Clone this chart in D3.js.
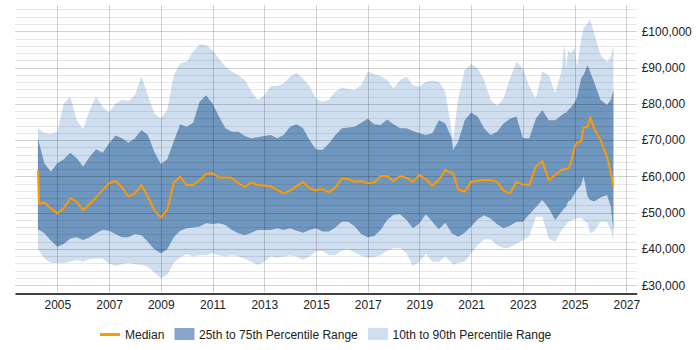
<!DOCTYPE html>
<html>
<head>
<meta charset="utf-8">
<script src="https://cdn.jsdelivr.net/npm/d3@7"></script>
<style>
  html, body { margin: 0; padding: 0; background: #fff; }
  svg { display: block; font-family: "Liberation Sans", Arial, sans-serif; }
</style>
</head>
<body>
<svg id="chart" width="700" height="350"></svg>
<script>
// ---- data (values in £ thousands) ----
const years = [2004.25, 2004.3, 2004.5, 2004.75,
  2005, 2005.25, 2005.5, 2005.75, 2006, 2006.25, 2006.5, 2006.75,
  2007, 2007.25, 2007.5, 2007.75, 2008, 2008.25, 2008.5, 2008.75,
  2009, 2009.25, 2009.5, 2009.75, 2010, 2010.25, 2010.5, 2010.75,
  2011, 2011.25, 2011.5, 2011.75, 2012, 2012.25, 2012.5, 2012.75,
  2013, 2013.25, 2013.5, 2013.75, 2014, 2014.25, 2014.5, 2014.75,
  2015, 2015.25, 2015.5, 2015.75, 2016, 2016.25, 2016.5, 2016.75,
  2017, 2017.25, 2017.5, 2017.75, 2018, 2018.25, 2018.5, 2018.75,
  2019, 2019.25, 2019.5, 2019.75, 2020, 2020.25, 2020.3, 2020.5, 2020.75,
  2021, 2021.25, 2021.5, 2021.75, 2022, 2022.25, 2022.5, 2022.75,
  2023, 2023.25, 2023.5, 2023.75, 2024, 2024.25, 2024.5, 2024.6, 2024.68, 2024.75, 2024.85,
  2025, 2025.1, 2025.25, 2025.35, 2025.5, 2025.6, 2025.75, 2026, 2026.25, 2026.4, 2026.5];

const p90 = [73.4, 73.0, 71.9, 71.7,
  72.3, 80.1, 82.0, 75.5, 73.0, 78.3, 82.0, 79.2,
  77.6, 80.1, 81.1, 80.8, 82.4, 87.5, 82.4, 77.4,
  76.0, 78.3, 87.9, 91.2, 91.6, 94.4, 96.4, 96.2,
  94.8, 92.5, 90.2, 88.9, 87.9, 86.6, 83.4, 81.1,
  82.4, 84.9, 84.9, 85.6, 87.5, 88.6, 87.0, 84.9,
  81.5, 80.6, 81.1, 83.4, 84.5, 84.0, 83.8, 85.2,
  88.9, 88.2, 87.7, 86.6, 84.3, 86.6, 87.5, 85.2,
  84.7, 86.1, 86.4, 86.1, 83.4, 72.3, 70.0, 81.5, 89.3,
  91.0, 89.8, 86.6, 81.1, 79.4, 81.5, 87.0, 91.6,
  89.8, 84.7, 81.5, 88.9, 87.9, 82.9, 89.3, 96.7, 90.2, 94.8, 93.9,
  95.3, 90.2, 97.6, 100.8, 102.2, 103.4, 99.6, 93.5, 91.6, 93.0, 96.2];

const p75 = [70.5, 69.1, 63.6, 61.3,
  63.6, 64.7, 66.5, 65.0, 62.7, 65.4, 67.5, 66.5,
  69.1, 71.3, 70.5, 69.3, 70.5, 72.8, 71.4, 66.8,
  63.4, 64.7, 69.6, 74.4, 73.7, 74.8, 80.6, 82.4,
  80.1, 76.5, 73.3, 72.3, 72.3, 71.1, 70.5, 70.8,
  71.1, 71.4, 70.5, 71.4, 73.7, 74.4, 73.3, 70.0,
  67.5, 67.3, 69.1, 71.4, 73.3, 73.5, 73.7, 74.8,
  75.9, 74.4, 74.2, 75.7, 74.4, 73.3, 73.3, 72.5,
  71.9, 71.4, 71.9, 75.5, 74.6, 70.5, 67.3, 69.6, 75.5,
  77.6, 76.5, 73.3, 71.4, 72.3, 74.6, 75.9, 76.5,
  70.5, 70.5, 75.9, 78.3, 75.5, 75.5, 76.9, 77.4, 77.6, 78.3, 79.0,
  80.3, 82.0, 87.0, 88.0, 90.7, 88.8, 86.1, 81.1, 79.7, 81.1, 83.8];

const median = [61.7, 52.4, 52.8, 51.2,
  49.8, 51.2, 54.0, 53.0, 50.7, 52.4, 54.2, 56.2,
  58.1, 58.7, 57.0, 54.4, 55.3, 57.6, 54.4, 50.7,
  48.7, 50.7, 58.3, 59.9, 57.6, 57.6, 59.0, 60.7,
  60.9, 59.7, 59.7, 59.6, 58.1, 57.2, 58.3, 57.6,
  57.5, 57.3, 56.3, 55.3, 56.1, 57.3, 58.5, 56.7,
  56.1, 56.5, 55.6, 56.9, 59.5, 59.2, 58.5, 58.7,
  58.1, 58.3, 60.1, 60.1, 58.7, 60.1, 59.6, 58.5,
  60.4, 59.2, 57.4, 59.0, 61.8, 60.9, 60.9, 56.3, 55.8,
  58.5, 58.8, 59.0, 59.0, 58.5, 56.1, 55.3, 58.5,
  57.8, 57.6, 62.7, 64.2, 59.0, 60.4, 61.8, 62.0, 62.1, 62.2, 63.6,
  68.2, 69.4, 69.6, 73.5, 73.7, 76.3, 73.3, 70.0, 65.4, 61.0, 57.2];

const p25 = [45.2, 45.2, 44.3, 42.3,
  40.6, 41.4, 42.9, 43.2, 42.5, 43.2, 44.3, 45.2,
  45.0, 44.1, 43.2, 43.2, 44.1, 43.8, 42.0, 39.9,
  38.8, 39.9, 43.2, 45.0, 45.7, 45.9, 46.2, 47.1,
  46.9, 47.1, 46.6, 45.2, 44.3, 43.8, 44.5, 45.2,
  45.2, 45.2, 45.7, 45.2, 45.7, 45.0, 44.5, 45.2,
  45.7, 44.8, 44.8, 45.9, 47.5, 47.5, 46.2, 44.1,
  43.2, 43.6, 45.2, 48.0, 49.4, 49.6, 48.0, 45.7,
  47.1, 49.6, 47.5, 45.4, 47.2, 44.3, 44.1, 43.4, 44.5,
  46.2, 48.2, 49.3, 48.4, 46.8, 45.7, 46.4, 47.5,
  47.5, 49.6, 51.5, 53.5, 51.2, 48.0, 50.3, 51.2, 51.7, 53.1, 53.5,
  55.3, 56.3, 57.6, 59.9, 54.4, 53.5, 53.1, 54.2, 54.9, 51.7, 45.2];

const p10 = [39.7, 39.5, 37.4, 36.1,
  36.1, 36.1, 36.5, 37.0, 36.5, 37.2, 37.4, 37.4,
  35.9, 35.4, 35.8, 36.1, 35.8, 35.6, 35.1, 33.5,
  31.9, 32.8, 36.1, 37.7, 38.6, 37.9, 38.3, 38.3,
  38.8, 38.3, 37.9, 38.3, 37.9, 37.4, 36.5, 35.6,
  36.5, 37.9, 37.6, 37.9, 38.3, 37.9, 37.0, 37.9,
  39.3, 39.5, 38.3, 38.3, 39.5, 39.9, 39.0, 38.1,
  37.6, 37.7, 38.3, 39.5, 40.2, 40.2, 38.8, 35.3,
  36.5, 38.6, 36.5, 36.5, 37.9, 36.1, 35.6, 36.2, 36.5,
  38.8, 41.1, 42.6, 42.6, 41.1, 40.2, 40.4, 41.5,
  42.3, 43.6, 48.9, 48.9, 42.9, 42.0, 45.2, 46.1, 46.6, 47.5, 47.8,
  48.2, 48.4, 48.7, 48.0, 47.1, 44.3, 44.8, 47.5, 47.5, 45.2, 42.5];

const xTicks = [2005, 2007, 2009, 2011, 2013, 2015, 2017, 2019, 2021, 2023, 2025, 2027];
const yTicks = [30000, 40000, 50000, 60000, 70000, 80000, 90000, 100000];
const legendLabels = ["Median", "25th to 75th Percentile Range", "10th to 90th Percentile Range"];

// ---- build rows ----
const rows = years.map((yr, i) => ({
  year: yr, p10: p10[i] * 1000, p25: p25[i] * 1000, median: median[i] * 1000,
  p75: p75[i] * 1000, p90: p90[i] * 1000
}));

const svg = d3.select("#chart");
const plotL = 15, plotR = 636.7, plotT = 5, plotB = 292.5;
const x = d3.scaleLinear().domain([2003.364, 2027.4]).range([plotL, plotR]);
const y = d3.scaleLinear().domain([28000, 107240]).range([plotB, plotT]);

const colLight = "#d0dff0", colDark = "#6f96be", colMedian = "#ff9900";

// bands
svg.append("path").datum(rows)
  .attr("fill", colLight)
  .attr("d", d3.area().x(d => x(d.year)).y0(d => y(d.p10)).y1(d => y(d.p90)));
svg.append("path").datum(rows)
  .attr("fill", colDark)
  .attr("d", d3.area().x(d => x(d.year)).y0(d => y(d.p25)).y1(d => y(d.p75)));

// gridlines (over bands, translucent)
const minor = d3.range(30000, 106001, 2000).filter(v => v % 10000 !== 0);
svg.append("g").selectAll("line").data(minor).join("line")
  .attr("x1", plotL).attr("x2", plotR)
  .attr("y1", d => Math.round(y(d)) + 0.5).attr("y2", d => Math.round(y(d)) + 0.5)
  .attr("stroke", "rgba(0,0,0,0.09)").attr("stroke-width", 1);
svg.append("g").selectAll("line").data(yTicks).join("line")
  .attr("x1", plotL).attr("x2", plotR)
  .attr("y1", d => Math.round(y(d)) + 0.5).attr("y2", d => Math.round(y(d)) + 0.5)
  .attr("stroke", "rgba(0,0,0,0.18)").attr("stroke-width", 1);
svg.append("g").selectAll("line").data(xTicks).join("line")
  .attr("x1", d => Math.round(x(d)) + 0.5).attr("x2", d => Math.round(x(d)) + 0.5)
  .attr("y1", plotT).attr("y2", plotB)
  .attr("stroke", "rgba(0,0,0,0.18)").attr("stroke-width", 1);

// median line
svg.append("path").datum(rows)
  .attr("fill", "none").attr("stroke", colMedian).attr("stroke-width", 2)
  .attr("stroke-linejoin", "round")
  .attr("d", d3.line().x(d => x(d.year)).y(d => y(d.median)));

// x axis
const xAxis = svg.append("g").attr("transform", `translate(0,${Math.round(plotB) + 0.5})`)
  .call(d3.axisBottom(x).tickValues(xTicks).tickFormat(d3.format("d")).tickSize(0).tickSizeOuter(0).tickPadding(7));
xAxis.select(".domain").attr("stroke", "#000").attr("stroke-width", 1.3);
xAxis.selectAll("text").attr("font-size", 12).attr("fill", "#222").attr("font-family", "Liberation Sans, Arial, sans-serif");

// y axis (right)
const yAxis = svg.append("g").attr("transform", `translate(${plotR},0)`)
  .call(d3.axisRight(y).tickValues(yTicks).tickFormat(d => "£" + d3.format(",")(d)).tickSize(0).tickPadding(5));
yAxis.select(".domain").remove();
yAxis.selectAll("text").attr("font-size", 12).attr("fill", "#222").attr("font-family", "Liberation Sans, Arial, sans-serif");

// legend
const lg = svg.append("g").attr("font-size", 12).attr("fill", "#222");
lg.append("line").attr("x1", 100).attr("x2", 120).attr("y1", 334.5).attr("y2", 334.5)
  .attr("stroke", colMedian).attr("stroke-width", 3);
lg.append("text").attr("x", 125).attr("y", 338.5).text(legendLabels[0]);
lg.append("rect").attr("x", 174.5).attr("y", 328).attr("width", 20).attr("height", 12).attr("fill", "#87a5c8");
lg.append("text").attr("x", 199).attr("y", 338.5).text(legendLabels[1]);
lg.append("rect").attr("x", 368).attr("y", 328).attr("width", 20).attr("height", 12).attr("fill", colLight);
lg.append("text").attr("x", 392.5).attr("y", 338.5).text(legendLabels[2]);
</script>
</body>
</html>
